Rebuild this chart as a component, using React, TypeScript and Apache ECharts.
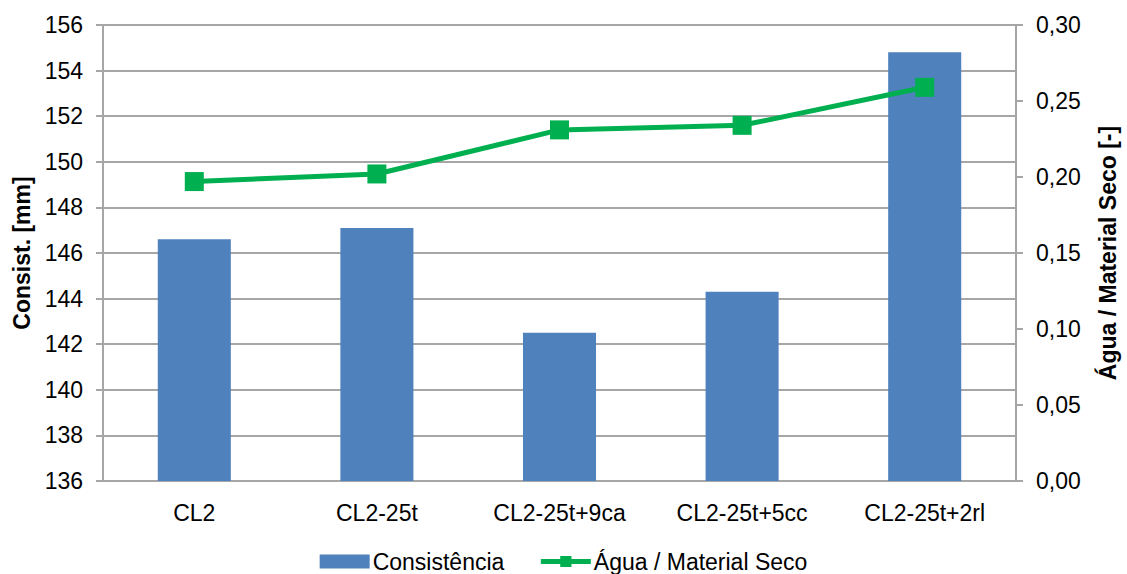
import React, { useEffect, useRef } from "react";
import * as echarts from "echarts";

const categories = ["CL2", "CL2-25t", "CL2-25t+9ca", "CL2-25t+5cc", "CL2-25t+2rl"];
const consistencia = [146.6, 147.1, 142.5, 144.3, 154.8];
const aguaMaterialSeco = [0.197, 0.202, 0.231, 0.234, 0.259];
const seriesNames = ["Consistência", "Água / Material Seco"];
const axisTitles = ["Consist. [mm]", "Água / Material Seco [-]"];

const FONT = "'Liberation Sans', Arial, sans-serif";
const GRID = "#a6a6a6";
const FS = 23;

export default function App() {
  const ref = useRef<HTMLDivElement>(null);
  useEffect(() => {
    if (!ref.current) return;
    const chart = echarts.init(ref.current, undefined, { renderer: "svg" });
    chart.setOption({
      animation: false,
      backgroundColor: "#ffffff",
      textStyle: { fontFamily: FONT, color: "#000" },
      grid: { left: 103, right: 105, top: 25, bottom: 93, containLabel: false },
      legend: {
        top: 550,
        left: "center",
        padding: 0,
        itemGap: 34,
        itemWidth: 50,
        itemHeight: 14,
        textStyle: { fontSize: FS, lineHeight: 23, color: "#000", fontFamily: FONT, padding: [0, 0, 0, -2] },
        data: [
          { name: seriesNames[0], icon: "rect" },
          { name: seriesNames[1], lineStyle: { width: 5, color: "#00b050" } },
        ],
      },
      xAxis: {
        type: "category",
        data: categories,
        axisLine: { show: true, lineStyle: { color: GRID, width: 2 } },
        axisTick: { show: false },
        axisLabel: { fontSize: FS, color: "#000", margin: 20, fontFamily: FONT },
        splitLine: { show: false },
      },
      yAxis: [
        {
          type: "value",
          min: 136,
          max: 156,
          interval: 2,
          name: axisTitles[0],
          nameLocation: "middle",
          nameRotate: 90,
          nameGap: 66,
          nameTextStyle: { fontSize: FS, fontWeight: "bold", color: "#000", fontFamily: FONT },
          axisLine: { show: true, lineStyle: { color: GRID, width: 2 } },
          axisTick: { show: true, length: 7, lineStyle: { color: GRID, width: 2 } },
          axisLabel: { fontSize: FS, color: "#000", margin: 20, fontFamily: FONT },
          splitLine: { show: true, lineStyle: { color: GRID, width: 2 } },
        },
        {
          type: "value",
          min: 0,
          max: 0.3,
          interval: 0.05,
          position: "right",
          name: axisTitles[1],
          nameLocation: "middle",
          nameRotate: 90,
          nameGap: 80,
          nameTextStyle: { fontSize: FS, fontWeight: "bold", color: "#000", fontFamily: FONT },
          axisLine: { show: true, lineStyle: { color: GRID, width: 2 } },
          axisTick: { show: true, length: 7, lineStyle: { color: GRID, width: 2 } },
          axisLabel: {
            fontSize: FS,
            color: "#000",
            margin: 20,
            fontFamily: FONT,
            formatter: (v: number) => v.toFixed(2).replace(".", ","),
          },
          splitLine: { show: false },
        },
      ],
      series: [
        {
          name: seriesNames[0],
          type: "bar",
          data: consistencia,
          barWidth: "40%",
          itemStyle: { color: "#4f81bd" },
          yAxisIndex: 0,
        },
        {
          name: seriesNames[1],
          type: "line",
          data: aguaMaterialSeco,
          yAxisIndex: 1,
          symbol: "rect",
          symbolSize: 19,
          lineStyle: { color: "#00b050", width: 5 },
          itemStyle: { color: "#00b050" },
        },
      ],
    });
    return () => chart.dispose();
  }, []);
  return (
    <div
      ref={ref}
      style={{ position: "fixed", left: 0, top: 0, width: 1127, height: 574, background: "#fff" }}
    />
  );
}
